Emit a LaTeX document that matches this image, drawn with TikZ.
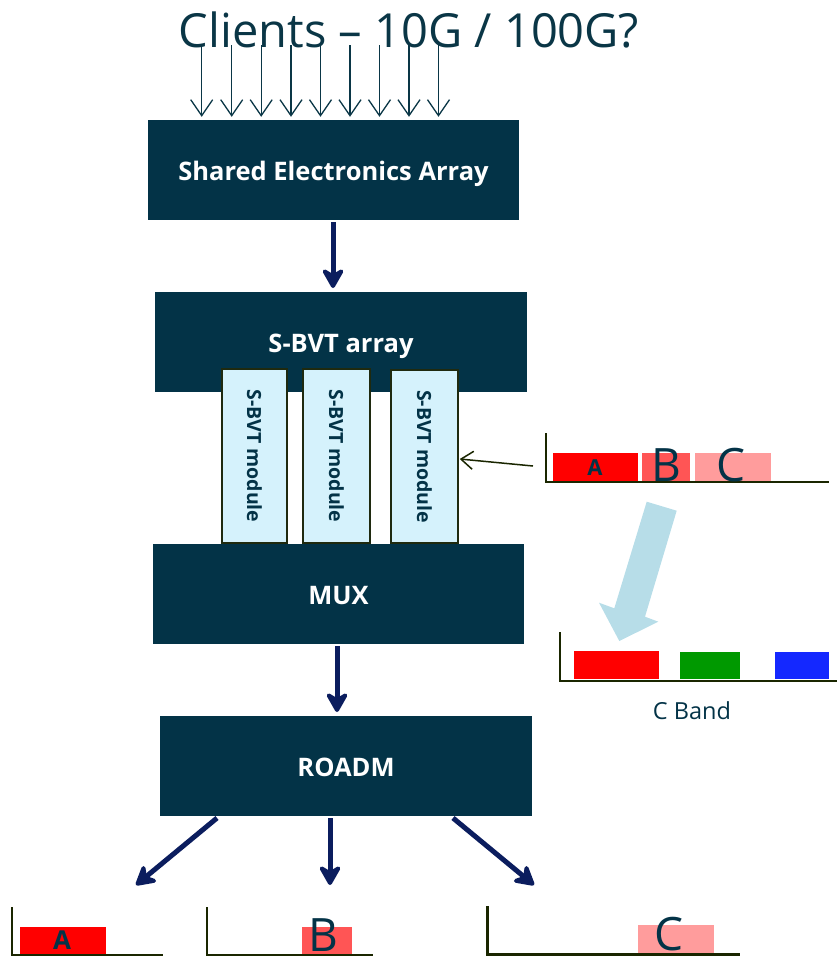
\documentclass[tikz,border=0pt]{standalone}
\usepackage{fontspec}
\setmainfont{Open Sans}
\usetikzlibrary{arrows.meta,calc}
\definecolor{boxfill}{HTML}{033347}
\definecolor{navy}{HTML}{0B1D5E}
\definecolor{titlec}{HTML}{0A3646}
\definecolor{modfill}{HTML}{D5F2FC}
\definecolor{modline}{HTML}{1F2A0F}
\definecolor{axisc}{HTML}{1A2600}
\definecolor{redA}{HTML}{FF0000}
\definecolor{redB}{HTML}{FF5555}
\definecolor{redC}{HTML}{FF9C9C}
\definecolor{greenb}{HTML}{009900}
\definecolor{blueb}{HTML}{1428FF}
\definecolor{lightarrow}{HTML}{B7DDE8}
\tikzset{
  box/.style={fill=boxfill, draw=none, inner sep=0pt, minimum height=100pt},
  boxtext/.style={anchor=base, inner sep=0pt, text=white, font=\fontsize{25.5}{30}\selectfont\bfseries},
  module/.style={fill=modfill, draw=modline, line width=1.5pt, inner sep=0pt},
  modtext/.style={rotate=-90, text=boxfill, font=\fontsize{19.5}{22}\selectfont\bfseries},
  clientarrow/.style={draw=titlec, line width=1.3pt, -{Straight Barb[length=16pt,width=22pt]}},
  thick arrow/.style={draw=navy, line width=5pt, -{Stealth[length=24pt,width=27pt,inset=8pt,round]}},
  axis/.style={draw=axisc, line width=2pt},
  biglabel/.style={text=boxfill, anchor=base, inner sep=0pt, text depth=0pt, font=\fontsize{46}{50}\selectfont},
  smalllabel/.style={text=boxfill, anchor=base, inner sep=0pt, text depth=0pt, font=\fontsize{22}{26}\selectfont\bfseries},
}
\begin{document}
\begin{tikzpicture}[x=1pt,y=-1pt]
\useasboundingbox (0,0) rectangle (837,956);

% title
\node[anchor=base, inner sep=0pt, text=titlec, font=\fontsize{47}{52}\selectfont] (title) at (409,47) {Clients – 10G / 100G?};

% boxes
\node[box, minimum width=371pt] (sea) at (333.5,170) {};
\node[boxtext] (seat) at (333.5,180.5) {Shared Electronics Array};
\node[box, minimum width=372pt] (sbvt) at (341,342) {};
\node[boxtext] (sbvtt) at (341,352) {S-BVT array};

% modules
\node[module, minimum width=65pt, minimum height=174pt] (m1) at (254.5,456) {};
\node[module, minimum width=67pt, minimum height=174pt] (m2) at (336.5,456) {};
\node[module, minimum width=67pt, minimum height=173pt] (m3) at (424.5,456.5) {};
\node[modtext] (m1t) at (m1) {S-BVT module};
\node[modtext] (m2t) at (m2) {S-BVT module};
\node[modtext] (m3t) at (m3) {S-BVT module};

\node[box, minimum width=371pt] (mux) at (338.5,594) {};
\node[boxtext] (muxt) at (338.5,604) {MUX};
\node[box, minimum width=372pt] (roadm) at (346,766) {};
\node[boxtext] (roadmt) at (346,776) {ROADM};

% client arrows
\foreach \i/\x in {1/201.7,2/231.7,3/261.2,4/291,5/320.5,6/350,7/379.5,8/409,9/438.5}{
  \coordinate (c\i) at (\x,45);
  \draw[clientarrow, shorten >=3pt] (c\i) -- (c\i |- sea.north);
}

% thick arrows
\coordinate (a1) at (333,222);
\draw[thick arrow] (a1) -- (a1 |- 0,288);
\coordinate (a2) at (337,646);
\draw[thick arrow] (a2) -- (a2 |- 0,712);
\coordinate (r1) at (217,818);
\coordinate (t1) at (136,885);
\coordinate (r2) at (330,818);
\coordinate (t2) at (330,885);
\coordinate (r3) at (453,818);
\coordinate (t3) at (534,885);
\draw[thick arrow] (r1) -- (t1);
\draw[thick arrow] (r2) -- (t2);
\draw[thick arrow] (r3) -- (t3);

% top spectrum
\fill[redA] (552.7,452.7) rectangle (637.7,481);
\fill[redB] (642,452.7) rectangle (690,481);
\fill[redC] (695,452.7) rectangle (770.7,481);
\draw[axis] (545.7,433) -- (545.7,481.5) -- (829,481.5);
\node[smalllabel] (la) at (595,475) {A};
\node[biglabel] (lb) at (666,481) {B};
\node[biglabel] (lc) at (731.5,481) {C};

% arrow to module
\coordinate (sp) at (533,466);
\draw[draw=axisc, line width=1.5pt, -{Straight Barb[length=12pt,width=18pt]}] (sp) -- ($(m3.east)+(1,2.5)$);

% big light arrow
\fill[lightarrow] (646.7,501.7) -- (676.7,510.7) -- (645,616.7) -- (658.3,621.7)
  -- (619.3,641) -- (599,602.7) -- (614.3,608.3) -- cycle;

% C band spectrum
\fill[redA] (574,651) rectangle (659,678.7);
\fill[greenb] (679.7,652) rectangle (740.3,678.7);
\fill[blueb] (775,652) rectangle (829,678.7);
\draw[axis] (560,632) -- (560,681) -- (837,681);
\node[text=boxfill, anchor=base, inner sep=0pt, font=\fontsize{23.5}{28}\selectfont] (cband) at (692,719) {C Band};

% bottom spectra
\fill[redA] (20,927) rectangle (106,955);
\draw[axis, line width=1.5pt] (12,907) -- (12,955) -- (163,955);
\node[smalllabel, font=\fontsize{26}{30}\selectfont\bfseries] (ba) at (62,949) {A};

\fill[redB] (302,927) rectangle (352,955);
\draw[axis, line width=1.5pt] (207,907) -- (207,955) -- (373,955);
\node[biglabel] (bb) at (323,951) {B};

\fill[redC] (638,925) rectangle (714,953);
\draw[axis, line width=3pt] (487,906) -- (487,954) -- (740,954);
\node[biglabel] (bc) at (669,950.5) {C};
\end{tikzpicture}
\end{document}
